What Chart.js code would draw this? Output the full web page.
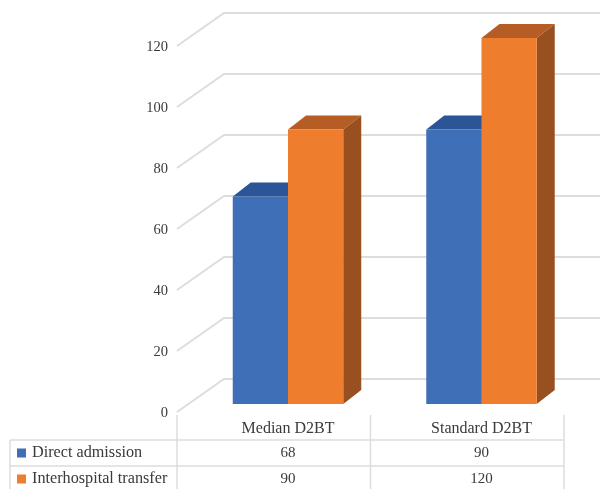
<!DOCTYPE html>
<html>
<head>
<meta charset="utf-8">
<title>D2BT</title>
<style>
  html, body { margin: 0; padding: 0; background: #fff; }
  canvas { display: block; }
</style>
<script src="https://cdn.jsdelivr.net/npm/chart.js@4/dist/chart.umd.min.js"></script>
</head>
<body>
<canvas id="d2btChart" width="600" height="489"></canvas>
<script>
const categories = ["Median D2BT", "Standard D2BT"];
const directAdmission = [68, 90];
const interhospitalTransfer = [90, 120];

const FONT_FAMILY = "Liberation Serif";
const TEXT_COLOR = "#3a3a3a";
const LINE_COLOR = "#dddddd";

// offsets of the fake 3D box
const wallDx = 47;
const wallDy = 33;
const barShiftX = 14.25;
const barShiftY = 25;
const barDepthX = 18;
const barDepthY = 14;

const seriesStyles = [
  { front: "#3f6fb6", top: "#2b5596", side: "#2b5596" },
  { front: "#ee7d2e", top: "#b55d24", side: "#995020" },
];

function face(ctx, color, points) {
  ctx.fillStyle = color;
  ctx.beginPath();
  points.forEach(([x, y], i) => (i ? ctx.lineTo(x, y) : ctx.moveTo(x, y)));
  ctx.closePath();
  ctx.fill();
}

const box3d = {
  id: "box3d",
  beforeDatasetsDraw(chart) {
    const { ctx, chartArea, scales } = chart;

    // floor diagonals and back wall lines
    ctx.save();
    ctx.strokeStyle = LINE_COLOR;
    ctx.lineWidth = 2;
    scales.y.ticks.forEach((tick) => {
      const y = scales.y.getPixelForValue(tick.value);
      ctx.beginPath();
      ctx.moveTo(chartArea.left, y + wallDy);
      ctx.lineTo(chartArea.left + wallDx, y);
      ctx.lineTo(chart.width, y);
      ctx.stroke();
    });
    ctx.restore();

    // bars are pushed forward from the wall, restored in afterDatasetsDraw
    ctx.save();
    ctx.translate(barShiftX, barShiftY);
    seriesStyles.forEach((style, i) => {
      chart.getDatasetMeta(i).data.forEach((bar) => {
        const left = bar.x - bar.width / 2;
        const right = bar.x + bar.width / 2;
        face(ctx, style.top, [
          [left, bar.y],
          [left + barDepthX, bar.y - barDepthY],
          [right + barDepthX, bar.y - barDepthY],
          [right, bar.y],
        ]);
        face(ctx, style.side, [
          [right, bar.y],
          [right + barDepthX, bar.y - barDepthY],
          [right + barDepthX, bar.base - barDepthY],
          [right, bar.base],
        ]);
      });
    });
  },
  afterDatasetsDraw(chart) {
    chart.ctx.restore();
    drawDataTable(chart);
  },
};

// Excel style data table under the plot
function drawDataTable(chart) {
  const { ctx, chartArea, scales } = chart;
  const tableLeft = 10;
  const rowLines = [440, 466];
  const firstRowY = 453;
  const rowHeight = 26;
  const colEdges = [
    chartArea.left,
    (chartArea.left + chartArea.right) / 2,
    chartArea.right,
  ];

  ctx.save();
  ctx.strokeStyle = LINE_COLOR;
  ctx.lineWidth = 1.5;
  colEdges.forEach((x) => {
    ctx.beginPath();
    ctx.moveTo(x, 415);
    ctx.lineTo(x, chart.height);
    ctx.stroke();
  });
  ctx.beginPath();
  ctx.moveTo(tableLeft, 440);
  ctx.lineTo(tableLeft, chart.height);
  ctx.stroke();
  rowLines.forEach((y) => {
    ctx.beginPath();
    ctx.moveTo(tableLeft, y);
    ctx.lineTo(chartArea.right, y);
    ctx.stroke();
  });

  ctx.textBaseline = "middle";
  chart.data.datasets.forEach((dataset, row) => {
    const y = firstRowY + row * rowHeight;
    ctx.fillStyle = dataset.backgroundColor;
    ctx.fillRect(17, y - 4.5, 9, 9);
    ctx.fillStyle = TEXT_COLOR;
    ctx.font = `16.2px "${FONT_FAMILY}", serif`;
    ctx.textAlign = "left";
    ctx.fillText(dataset.label, 32, y);
    ctx.font = `15px "${FONT_FAMILY}", serif`;
    ctx.textAlign = "center";
    dataset.data.forEach((value, col) => {
      ctx.fillText(String(value), scales.x.getPixelForTick(col) + barShiftX, y);
    });
  });
  ctx.restore();
}

new Chart(document.getElementById("d2btChart"), {
  type: "bar",
  data: {
    labels: categories,
    datasets: [
      {
        label: "Direct admission",
        data: directAdmission,
        backgroundColor: seriesStyles[0].front,
        clip: false,
      },
      {
        label: "Interhospital transfer",
        data: interhospitalTransfer,
        backgroundColor: seriesStyles[1].front,
        clip: false,
      },
    ],
  },
  options: {
    responsive: false,
    animation: false,
    layout: { padding: { top: 13, right: 36, left: 0, bottom: 0 } },
    categoryPercentage: 0.571,
    barPercentage: 1,
    scales: {
      x: {
        grid: { display: false },
        border: { display: false },
        afterFit: (scale) => {
          scale.height = 110;
        },
        ticks: {
          font: { family: FONT_FAMILY, size: 16 },
          color: TEXT_COLOR,
          padding: 32,
          labelOffset: barShiftX,
          maxRotation: 0,
        },
      },
      y: {
        min: 0,
        max: 120,
        grid: { display: false, drawTicks: false },
        border: { display: false },
        afterFit: (scale) => {
          scale.width = 177;
          scale.paddingTop = 0;
          scale.paddingBottom = 0;
        },
        ticks: {
          stepSize: 20,
          labelOffset: wallDy + 1,
          padding: 9,
          font: { family: FONT_FAMILY, size: 14.5 },
          color: TEXT_COLOR,
        },
      },
    },
    plugins: {
      legend: { display: false },
      tooltip: { enabled: false },
    },
  },
  plugins: [box3d],
});
</script>
</body>
</html>
